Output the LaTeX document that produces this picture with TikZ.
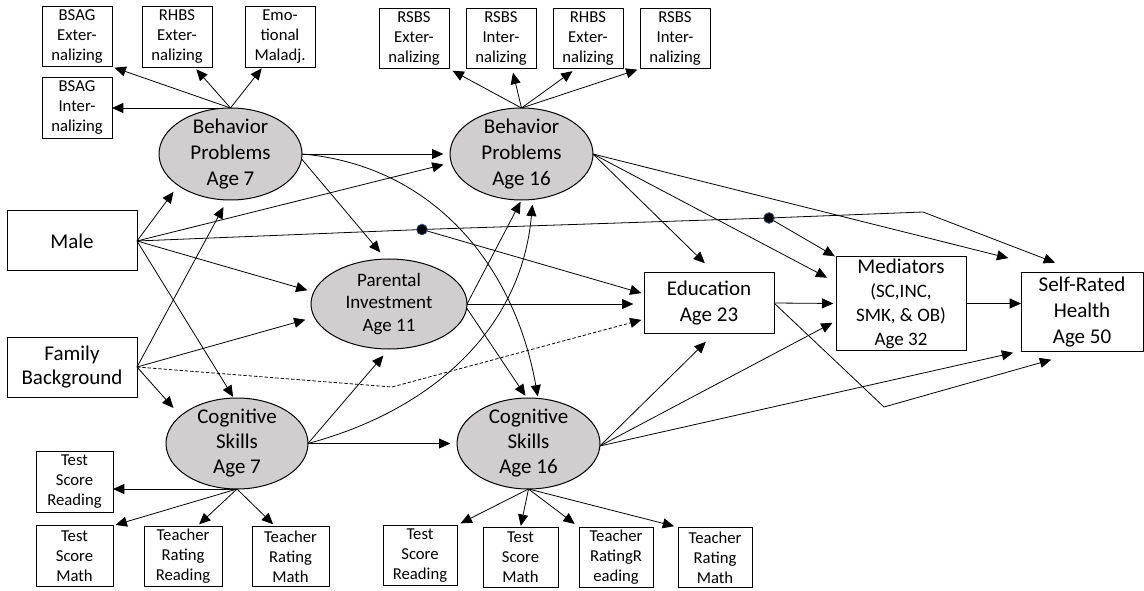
\documentclass[tikz,border=0pt]{standalone}
\usepackage{fontspec}
\setmainfont{Carlito}
\usetikzlibrary{arrows.meta,shapes.geometric,calc,backgrounds}
\definecolor{ellfill}{RGB}{208,206,206}
\definecolor{dotblue}{RGB}{47,82,143}
\newcommand{\medf}{\fontsize{14.25}{18}\selectfont}
\begin{document}
\begin{tikzpicture}[x=0.75pt,y=-0.75pt,
  every node/.style={inner sep=0pt, outer sep=0pt},
  big/.style={font=\fontsize{15.75}{19.5}\selectfont},
  small/.style={font=\fontsize{12.5}{15}\selectfont},
  box/.style={draw, line width=0.75pt, rectangle, align=center, inner ysep=-6pt},
  sbox/.style={box, small, minimum width=52.5pt, minimum height=45.5pt},
  bbox/.style={box, big, minimum width=97.5pt, minimum height=45pt},
  ell/.style={draw, ellipse, fill=ellfill, line width=0.75pt, align=center, inner xsep=0pt, inner ysep=-25pt},
  arr/.style={-{Triangle[length=8.5pt,width=7.5pt]}, line width=0.6pt},
  dot/.style={circle, fill=black, draw=dotblue, line width=0.6pt, minimum size=8pt},
]
\useasboundingbox (0,0) rectangle (1144,591);

% top-left indicators
\node[sbox] (bsagE) at (77,36.5) {BSAG\\Exter-\\nalizing};
\node[sbox] (rhbsEa) at (177,37) {RHBS\\Exter-\\nalizing};
\node[sbox] (emo) at (280,37) {Emo-\\tional\\Maladj.};
\node[sbox] (bsagI) at (77,108) {BSAG\\Inter-\\nalizing};
% top-right indicators
\node[sbox] (rsbsE) at (414,38.5) {RSBS\\Exter-\\nalizing};
\node[sbox] (rsbsI) at (501,38.5) {RSBS\\Inter-\\nalizing};
\node[sbox] (rhbsEb) at (588,38.5) {RHBS\\Exter-\\nalizing};
\node[sbox] (rsbsIb) at (675,38.5) {RSBS\\Inter-\\nalizing};

% latent variables
\node[ell, big, minimum width=107.25pt, minimum height=69pt] (bp7) at (230.5,154) {Behavior\\Problems\\Age 7};
\node[ell, big, minimum width=107.25pt, minimum height=69pt] (bp16) at (521.5,154) {Behavior\\Problems\\Age 16};
\node[ell, font=\fontsize{14.25}{17}\selectfont, minimum width=117pt, minimum height=67.5pt] (pi) at (389,304) {Parental\\Investment\\Age 11};
\node[ell, font=\fontsize{15.75}{18.75}\selectfont, minimum width=106.5pt, minimum height=68.25pt] (cs7) at (237,443.5) {Cognitive\\Skills\\Age 7};
\node[ell, font=\fontsize{15.75}{18.75}\selectfont, minimum width=107.25pt, minimum height=68.25pt] (cs16) at (528.5,443.5) {Cognitive\\Skills\\Age 16};

% observed boxes
\node[bbox] (male) at (72,241) {Male};
\node[bbox, font=\fontsize{15.75}{18}\selectfont] (fb) at (72,367) {Family\\Background};
\node[bbox] (edu) at (709,303) {Education\\Age 23};
\node[box, font=\fontsize{15.75}{18}\selectfont, minimum width=97.5pt, minimum height=69.75pt] (med) at (901,303.5) {Mediators\\{\medf (SC,INC,}\\{\medf SMK, \& OB)}\\{\medf Age 32}};
\node[box, big, minimum width=91.5pt, minimum height=58.5pt] (srh) at (1082,312) {Self-Rated\\Health\\Age 50};

% bottom indicators
\node[sbox, minimum width=57.75pt] (tsr7) at (74.5,482) {Test\\Score\\Reading};
\node[sbox, minimum width=57.75pt] (tsm7) at (74.5,556) {Test\\Score\\Math};
\node[sbox, minimum width=58.5pt] (trr7) at (183,556.5) {Teacher\\Rating\\Reading};
\node[sbox, minimum width=57.75pt] (trm7) at (290.5,556.5) {Teacher\\Rating\\Math};
\node[sbox, minimum width=55.5pt] (tsr16) at (420,555.5) {Test\\Score\\Reading};
\node[sbox, minimum width=56.25pt] (tsm16) at (520.5,557.5) {Test\\Score\\Math};
\node[sbox, minimum width=55.5pt] (trr16) at (616,557.5) {Teacher\\RatingR\\eading};
\node[sbox, minimum width=55.5pt] (trm16) at (715,557.5) {Teacher\\Rating\\Math};

% moderation dots and bend points
\node[dot] (dot1) at (422,229.5) {};
\node[dot] (dot2) at (769,218) {};
\coordinate (bendA) at (923,212);
\coordinate (bendB) at (392,387);
\coordinate (bendC) at (884,407);

\begin{pgfonlayer}{background}
% behaviour problems age 7 indicators
\draw[arr, shorten >=2pt] (bp7.north) -- (bsagE.south east);
\draw[arr, shorten >=2pt] (bp7.north) -- (rhbsEa.-60);
\draw[arr, shorten >=1pt] (bp7.north) -- (emo.-120);
\draw[arr] (bp7.north) -- (bsagI.east);
% behaviour problems age 16 indicators
\draw[arr, shorten >=3pt] (bp16.north) -- (rsbsE.south east);
\draw[arr, shorten >=3pt] (bp16.north) -- (rsbsI.-70);
\draw[arr, shorten >=3pt] (bp16.north) -- (rhbsEb.-112);
\draw[arr, shorten >=2pt] (bp16.north) -- (rsbsIb.south west);
% Male
\draw[arr, shorten >=6pt] (male.east) -- (bp7.211);
\draw[arr, shorten >=6pt] (male.east) -- (bp16.187);
\draw[arr, shorten >=5pt] (male.east) -- (pi.171);
\draw[arr, shorten >=1pt] (male.east) -- (cs7.94);
\draw[arr, shorten >=21.6pt] (male.east) -- (dot1.center) -- (dot2.center) -- (bendA) -- (srh.north);
\draw[arr, shorten >=2pt] (dot1) -- (edu.172);
\draw[arr, shorten >=1pt] (dot2) -- (med.north west);
% Family background
\draw[arr, shorten >=6pt] (fb.east) -- (bp7.266);
\draw[arr, shorten >=7pt] (fb.east) -- (pi.190);
\draw[arr, shorten >=8pt] (fb.east) -- (cs7.154);
\draw[arr, dash pattern=on 2.5pt off 1.5pt, shorten >=2pt] (fb.east) -- (bendB) -- (edu.194);
% behaviour problems age 7
\draw[arr, shorten >=5pt] (bp7.east) -- (bp16.west);
\draw[arr, shorten >=6.5pt] (bp7.-4) -- (pi.94);
\draw[arr, shorten >=1.5pt] (bp7.east) to[out=-5,in=100] (cs16.78);
% parental investment
\draw[arr, shorten >=8pt] (pi.east) -- (pi.east -| edu.west);
\draw[arr, shorten >=1.5pt] (pi.east) -- (bp16.south);
\draw[arr, shorten >=2pt] (pi.-3) -- (cs16.92);
% cognitive skills age 7
\draw[arr, shorten >=5pt] (cs7.east) -- (cs16.west);
\draw[arr, shorten >=6.5pt] (cs7.east) -- (pi.south);
\draw[arr, shorten >=4pt] (cs7.east) to[out=15,in=-95] (bp16.-76);
% behaviour problems age 16
\draw[arr, shorten >=10.5pt] (bp16.east) -- (edu.79);
\draw[arr, shorten >=7.5pt] (bp16.east) -- (med.162);
\draw[arr, shorten >=46pt] (bp16.east) -- (srh.110);
% education and mediators
\draw[arr, shorten >=2pt] (edu.east) -- (med.west);
\draw[arr, shorten >=24pt] (edu.east) -- (bendC) -- (srh.south);
\draw[arr] (med.east) -- (med.east -| srh.west);
% cognitive skills age 16
\draw[arr, shorten >=9.5pt] (cs16.-2) -- (edu.-79);
\draw[arr, shorten >=3pt] (cs16.-2) -- (med.195);
\draw[arr, shorten >=6pt] (cs16.-2) -- (srh.south west);
% cognitive indicators
\draw[arr] (cs7.south) -- (cs7.south -| tsr7.east);
\draw[arr, shorten >=2pt] (cs7.south) -- (tsm7.north east);
\draw[arr, shorten >=2pt] (cs7.south) -- (trr7.65);
\draw[arr, shorten >=2pt] (cs7.south) -- (trm7.117);
\draw[arr, shorten >=3pt] (cs16.south) -- (tsr16.north east);
\draw[arr, shorten >=1pt] (cs16.south) -- (tsm16.north);
\draw[arr, shorten >=4pt] (cs16.south) -- (trr16.north west);
\draw[arr, shorten >=3pt] (cs16.south) -- (trm16.north west);
\end{pgfonlayer}
\end{tikzpicture}
\end{document}
